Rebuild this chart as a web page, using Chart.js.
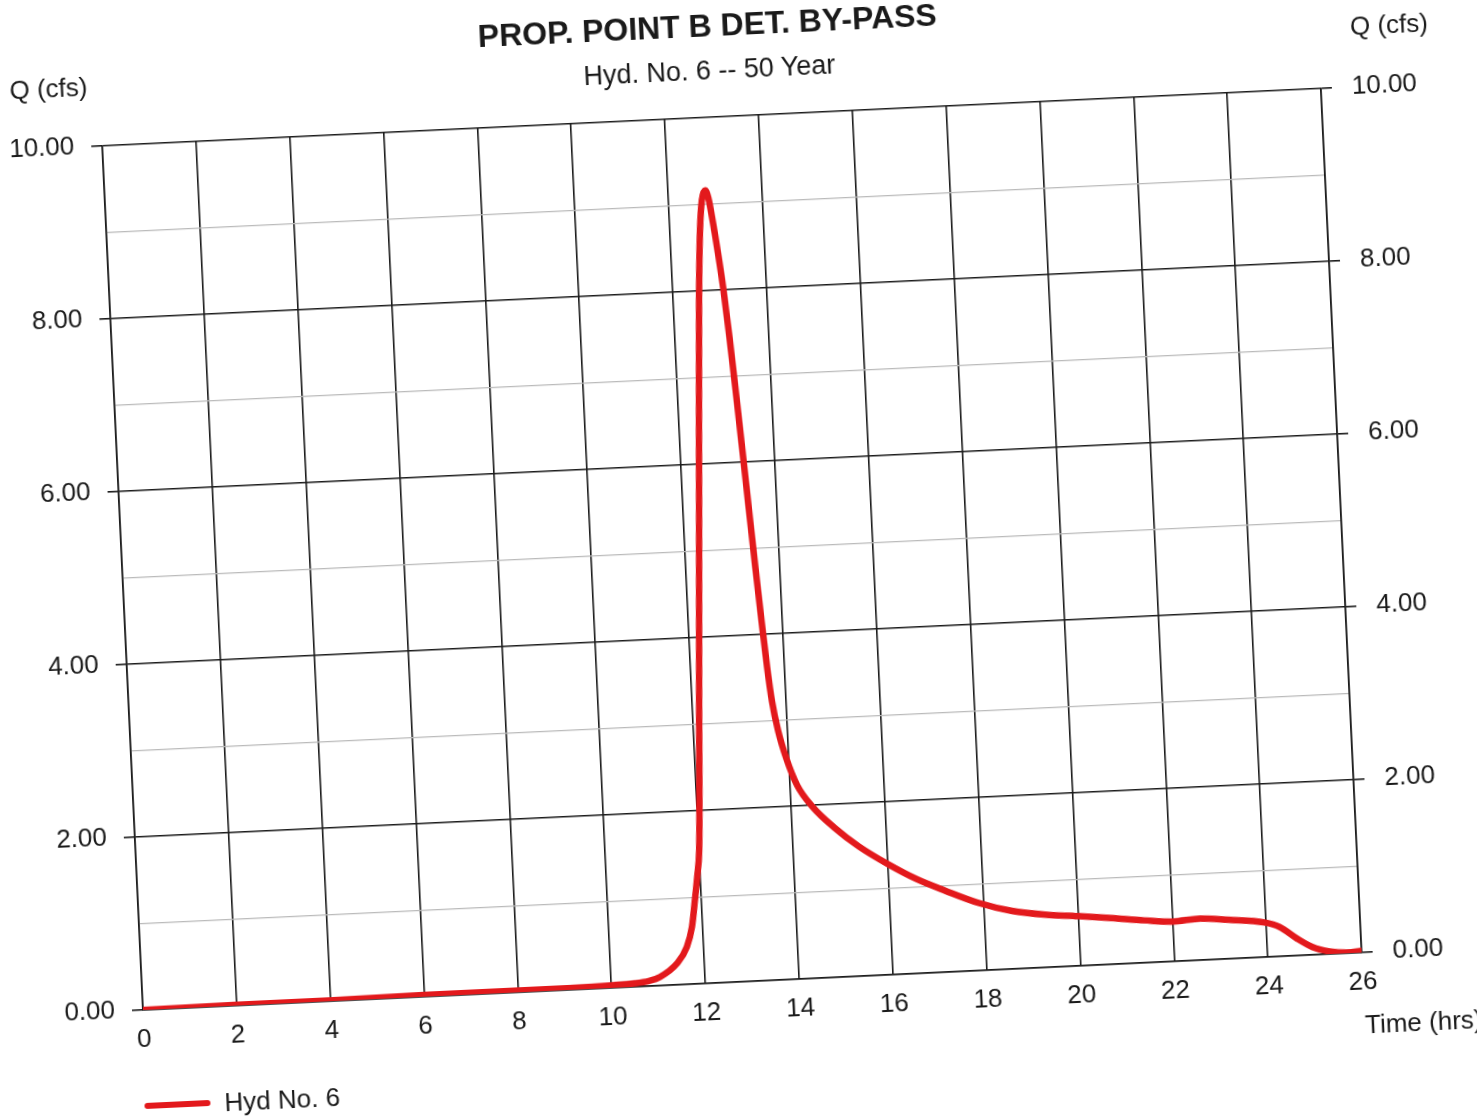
<!DOCTYPE html>
<html>
<head>
<meta charset="utf-8">
<title>PROP. POINT B DET. BY-PASS</title>
<script src="https://cdn.jsdelivr.net/npm/chart.js@4.4.1/dist/chart.umd.min.js"></script>
<style>
  html, body { margin: 0; padding: 0; background: #fff; overflow: hidden; }
  body { width: 1477px; height: 1117px; position: relative; }
  #sheet {
    position: absolute; left: 0; top: 0; width: 1600px; height: 1200px;
    transform: rotate(-2.7deg); transform-origin: 143px 1010px;
    font-family: "Liberation Sans", Arial, Helvetica, sans-serif; color: #1a1a1a;
  }
  #plot { position: absolute; left: 0; top: 0; width: 1600px; height: 1200px; }
  .lbl { position: absolute; white-space: nowrap; font-size: 26px; line-height: 26px; }
  #title { left: 753px; top: 37px; transform: translateX(-50%); font-size: 32px; line-height: 32px; font-weight: bold; }
  #subtitle { left: 753px; top: 85px; transform: translateX(-50%); font-size: 27px; line-height: 27px; }
  #qLeft { left: 53px; top: 72px; }
  #qRight { left: 1395px; top: 71px; }
  #timeLbl { left: 1363px; top: 1069px; }
  #legend { left: 140px; top: 1093px; }
  #legend .swatch { display: inline-block; width: 66px; height: 6px; border-radius: 3px; background: #e3191c; vertical-align: middle; margin-right: 14px; position: relative; top: -2px; }
</style>
</head>
<body>
<div id="sheet">
  <div id="plot"><canvas id="chart"></canvas></div>
  <div class="lbl" id="title">PROP. POINT B DET. BY-PASS</div>
  <div class="lbl" id="subtitle">Hyd. No. 6 -- 50 Year</div>
  <div class="lbl" id="qLeft">Q (cfs)</div>
  <div class="lbl" id="qRight">Q (cfs)</div>
  <div class="lbl" id="timeLbl">Time (hrs)</div>
  <div class="lbl" id="legend"><span class="swatch"></span>Hyd No. 6</div>
</div>
<script>
// hydrograph ordinates: time (hrs) and discharge (cfs)
const hydTime = [0, 2, 4, 6, 8, 10, 10.5, 10.8, 11.04, 11.42, 11.64, 11.77, 11.86, 11.93, 12.0,
  12.15, 12.35, 12.55, 12.64, 12.71, 12.79, 12.85, 12.92, 13.0, 13.08, 13.16, 13.24, 13.32, 13.4,
  13.48, 13.56, 13.63, 13.7, 13.8, 13.95, 14.15, 14.46, 14.9, 15.4, 16.0, 16.6, 17.2, 17.9,
  18.6, 19.3, 20.0, 20.7, 21.4, 22.0, 22.6, 23.2, 23.96, 24.28, 24.63, 24.96, 25.32, 25.68, 26];
const hydFlow = [0, 0.01, 0.01, 0.02, 0.02, 0.03, 0.04, 0.06, 0.10, 0.25, 0.43, 0.66, 0.97, 1.23, 1.54,
  3.28, 5.59, 7.90, 8.70, 9.05, 9.16, 9.07, 8.80, 8.43, 8.00, 7.45, 6.82, 6.15, 5.46,
  4.78, 4.14, 3.62, 3.22, 2.88, 2.55, 2.24, 1.98, 1.73, 1.50, 1.28, 1.09, 0.94, 0.78,
  0.67, 0.61, 0.575, 0.535, 0.49, 0.46, 0.48, 0.45, 0.40, 0.34, 0.20, 0.09, 0.03, 0.01, 0.02];

const timeRange = [0, 26];
const timeStep = 2;
const flowRange = [0, 10];
const flowStep = 2;

const INK = "#1a1a1a";
const FAINT = "#bababa";
const tickFont = { family: "'Liberation Sans', Arial, sans-serif", size: 26 };

// plot frame inside the 1600x1200 sheet
const W = 1600, H = 1200;
const PLOT_L = 143, PLOT_R = 1363, PLOT_T = 145, PLOT_B = 1010;

const isMajor = v => Math.abs(v % flowStep) < 1e-6;

new Chart(document.getElementById("chart"), {
  type: "line",
  data: {
    datasets: [{
      label: "Hyd No. 6",
      data: hydTime.map((t, i) => ({ x: t, y: hydFlow[i] })),
      borderColor: "#e3191c",
      borderWidth: 6.5,
      borderCapStyle: "round",
      borderJoinStyle: "round",
      pointRadius: 0,
      cubicInterpolationMode: "monotone",
      fill: false
    }]
  },
  options: {
    responsive: true,
    maintainAspectRatio: false,
    devicePixelRatio: 1,
    animation: false,
    layout: { padding: { left: 0, right: 0, top: PLOT_T, bottom: 0 } },
    plugins: { legend: { display: false }, title: { display: false }, tooltip: { enabled: false } },
    scales: {
      x: {
        type: "linear",
        min: timeRange[0], max: timeRange[1],
        ticks: { stepSize: timeStep, color: INK, font: tickFont, padding: 14, maxRotation: 0 },
        grid: { color: INK, lineWidth: 1.6, drawTicks: false },
        border: { color: INK, width: 1.6 },
        afterFit: s => { s.height = H - PLOT_B; }
      },
      y: {
        position: "left",
        min: flowRange[0], max: flowRange[1],
        ticks: {
          stepSize: 1, autoSkip: false, color: INK, font: tickFont, padding: 17,
          callback: v => isMajor(v) ? v.toFixed(2) : ""
        },
        grid: {
          color: c => isMajor(c.tick.value) ? INK : FAINT,
          lineWidth: c => isMajor(c.tick.value) ? 1.6 : 1.3,
          tickColor: c => isMajor(c.tick.value) ? INK : "rgba(0,0,0,0)",
          tickLength: 11
        },
        border: { color: INK, width: 1.6 },
        afterFit: s => { s.width = PLOT_L; }
      },
      y2: {
        position: "right",
        min: flowRange[0], max: flowRange[1],
        ticks: { stepSize: flowStep, color: INK, font: tickFont, padding: 20, callback: v => v.toFixed(2) },
        grid: { drawOnChartArea: false, color: INK, lineWidth: 1.6, tickLength: 11 },
        border: { color: INK, width: 1.6 },
        afterFit: s => { s.width = W - PLOT_R; }
      }
    }
  }
});
</script>
</body>
</html>
